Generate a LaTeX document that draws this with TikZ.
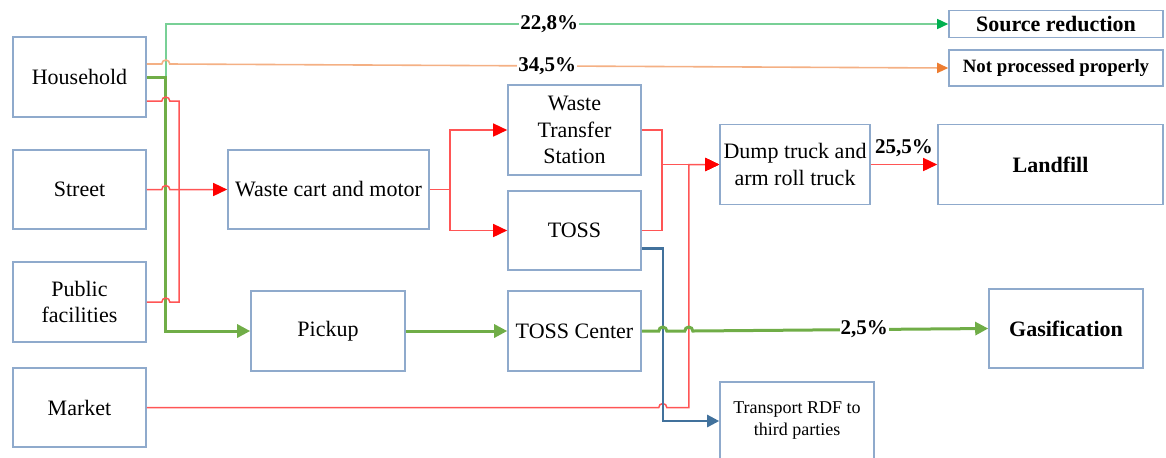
\documentclass[tikz,border=0pt]{standalone}
\usepackage{fontspec}
\setmainfont{Liberation Serif}
\usepackage{tikz}
\usepackage{xcolor}
\usetikzlibrary{arrows.meta}
\definecolor{boxblue}{RGB}{143,170,204}
\definecolor{flowred}{RGB}{255,85,85}
\definecolor{flowgreen}{RGB}{112,173,71}
\definecolor{srcgreen}{RGB}{120,208,150}
\definecolor{tipgreen}{RGB}{0,176,80}
\definecolor{floworange}{RGB}{244,176,132}
\definecolor{tiporange}{RGB}{237,125,49}
\definecolor{flowblue}{RGB}{65,113,156}
\tikzstyle{box} = [draw=boxblue, line width=0.8pt, align=center, inner sep=1pt, font=\fontsize{11}{13.25}\selectfont]
\tikzstyle{boldbox} = [box, font=\fontsize{11}{13.25}\selectfont\bfseries]

\begin{document}
\begin{tikzpicture}[x=0.5pt,y=-0.5pt]
			\tikzset{
				pct/.style={font=\fontsize{10.5}{12}\selectfont\bfseries, fill=white, inner sep=0.5pt},
				hop/.style={insert path={arc[start angle=180,end angle=0,radius=2pt]}},
				redline/.style={draw=flowred, line width=0.75pt},
				redarr/.style={redline, -{Triangle[length=7pt,width=6.5pt,color=red]}},
				greenarr/.style={draw=flowgreen, line width=1.5pt, -{Triangle[length=6.5pt,width=6.5pt]}},
				srcarr/.style={draw=srcgreen, line width=0.75pt, -{Triangle[length=5.5pt,width=5pt,color=tipgreen]}},
				orangearr/.style={draw=floworange, line width=0.8pt, -{Triangle[length=5.5pt,width=5pt,color=tiporange]}},
				bluearr/.style={draw=flowblue, line width=1.25pt, -{Triangle[length=6pt,width=6pt]}}
			}
\useasboundingbox (0,0) rectangle (1166,457);

% sources
\node[box, minimum width=66.5pt, minimum height=40pt] (house) at (79.5,77) {Household};
\node[box, minimum width=66.5pt, minimum height=39.5pt] (street) at (79.5,189.5) {Street};
\node[box, minimum width=66.5pt, minimum height=40pt] (pub) at (79.5,302) {Public\\facilities};
\node[box, minimum width=66.5pt, minimum height=39.5pt] (market) at (79.5,407.5) {Market};

% collection and transfer
\node[box, minimum width=100.5pt, minimum height=39.5pt] (cart) at (328.5,189.5) {Waste cart and motor};
\node[box, minimum width=77pt, minimum height=40pt] (pick) at (328,331) {Pickup};
\node[box, minimum width=66.5pt, minimum height=45pt] (wts) at (574.5,130) {Waste\\Transfer\\Station};
\node[box, minimum width=66.5pt, minimum height=39.5pt] (toss) at (574.5,230.5) {TOSS};
\node[box, minimum width=66.5pt, minimum height=40pt] (tossc) at (574.5,331) {TOSS Center};
\node[box, minimum width=75pt, minimum height=40pt] (dump) at (795,164.5) {Dump truck and\\arm roll truck};
\node[box, minimum width=77pt, minimum height=39pt, font=\fontsize{9}{11}\selectfont] (rdf) at (797,421) {Transport RDF to\\third parties};

% end points
\node[boldbox, minimum width=107pt, minimum height=13.5pt] (src) at (1056,24) {Source reduction};
\node[boldbox, minimum width=107pt, minimum height=18pt, font=\fontsize{9.4}{11}\selectfont\bfseries] (npp) at (1056,68) {Not processed properly};
\node[boldbox, minimum width=112.5pt, minimum height=40pt] (land) at (1050.5,164.5) {Landfill};
\node[boldbox, minimum width=77pt, minimum height=39.5pt] (gas) at (1066,328.5) {Gasification};

% household shares
\draw[srcarr] (house.east) -- ++(19,0) |- node[pct,pos=0.745] {22,8\%} (src.west);
\draw[greenarr] (house.east) -- ++(19,0) |- (pick.west);
\draw[orangearr] ([yshift=6.5pt]house.east) -- ++(15,0) [hop] -- node[pct,pos=0.485] {34,5\%} (npp.west);

% red flow to the cart
\draw[redline] ([yshift=-12pt]house.east) -- ++(15,0) [hop] -| (179,189.5);
\draw[redline] (pub.east) -- ++(15,0) [hop] -| (179,189.5);
\draw[redarr] (street.east) -- ++(15,0) [hop] -- (cart.west);

\foreach \to in {wts,toss}
{
	\draw[redarr] (cart.east) -- ++(20,0) |- (\to.west);
}
\foreach \from in {wts,toss}
{
	\draw[redarr] (\from.east) -- ++(20,0) |- (dump.west);
}
\draw[redarr] (market.east) -- ++(512,0) [hop] -- ++(22,0) |- (dump.west);
\draw[redarr] (dump.east) -- node[pct, above, fill=none, yshift=3pt] {25,5\%} (land.west);

% RDF and gasification
\draw[bluearr] ([yshift=-9pt]toss.east) -- ++(21,0) |- (rdf.west);
\draw[greenarr] (pick.east) -- (tossc.west);
\draw[greenarr] (tossc.east) -- ++(17,0) [hop] -- ++(18,0) [hop] -- node[pct,pos=0.58] {2,5\%} (gas.west);

		\end{tikzpicture}
\end{document}
